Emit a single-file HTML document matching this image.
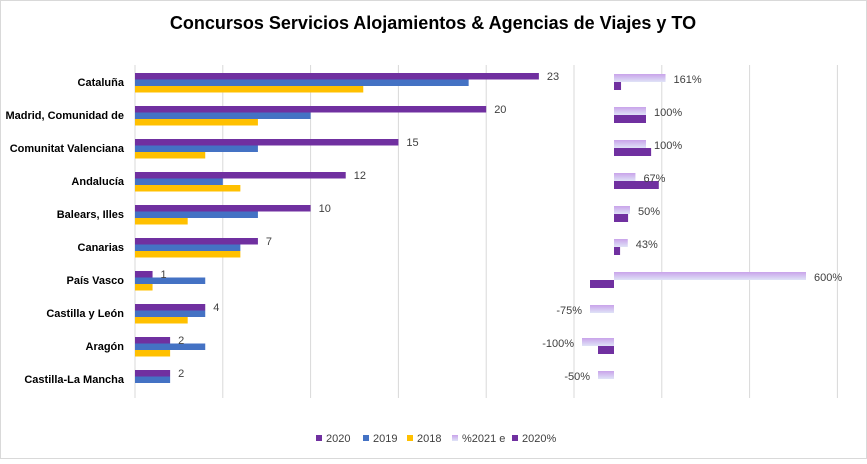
<!DOCTYPE html>
<html><head><meta charset="utf-8">
<style>
body{margin:0;background:#fff;font-family:"Liberation Sans",sans-serif;}
svg text{font-family:"Liberation Sans",sans-serif;}
</style></head>
<body>
<svg id="chart" width="867" height="459" xmlns="http://www.w3.org/2000/svg">
<defs>
<linearGradient id="lg" x1="0" y1="0" x2="0" y2="1">
<stop offset="0" stop-color="#c9a3ea"/><stop offset="1" stop-color="#dfe3f7"/>
</linearGradient>
</defs>
<rect x="0.5" y="0.5" width="866" height="458" fill="#fff" stroke="#d9d9d9"/>
<text x="433" y="29" text-anchor="middle" font-size="18" font-weight="bold" fill="#000">Concursos Servicios Alojamientos &amp; Agencias de Viajes y TO</text>
<g id="grid"></g>
<g id="bars"></g>
<g id="labels"></g>
<g id="legend"></g>
</svg>
<script>
const categories=["Cataluña","Madrid, Comunidad de","Comunitat Valenciana","Andalucía","Balears, Illes","Canarias","País Vasco","Castilla y León","Aragón","Castilla-La Mancha"];
const v2020=[23,20,15,12,10,7,1,4,2,2];
const v2019=[19,10,7,5,7,6,4,4,4,2];
const v2018=[13,7,4,6,3,6,1,3,2,0];
const pct2021e=[161,100,100,67,50,43,600,-75,-100,-50];
const pctLabels=["161%","100%","100%","67%","50%","43%","600%","-75%","-100%","-50%"];
const pct2020=[22,100,116,140,44,19,-75,0,-50,0];
const legendLabels=["2020","2019","2018","%2021 e","2020%"];

const NS="http://www.w3.org/2000/svg";
const x0=135, unit=17.56;
const xL=v=>x0+v*unit;
const z0=614, punit=0.32;
const xR=p=>z0+p*punit;
const rowY=i=>73+i*33;
function mk(tag,attrs,parent){const e=document.createElementNS(NS,tag);for(const k in attrs)e.setAttribute(k,attrs[k]);parent.appendChild(e);return e;}
const grid=document.getElementById('grid'),bars=document.getElementById('bars'),labels=document.getElementById('labels'),legend=document.getElementById('legend');
for(let k=0;k<=8;k++){
  const x=xL(k*5);
  const l=mk('line',{x1:x,x2:x,y1:65,y2:398,stroke:'#d9d9d9','stroke-width':1},grid);
  
  
}
function bar(a,b,y,h,fill,name){
  const r=mk('rect',{x:Math.min(a,b),y:y,width:Math.abs(b-a),height:h,fill:fill},bars);
  
  
}
function txt(x,y,s,anchor,size,weight,name,parent){
  const t=mk('text',{x:x,y:y,'text-anchor':anchor,'font-size':size,'font-weight':weight,fill:weight==='bold'?'#000':'#404040'},parent);
  t.textContent=s;
  
  
}
categories.forEach((c,i)=>{
  const y=rowY(i);
  txt(124,y+13,c,'end',11,'bold','category-label',labels);
  bar(xL(0),xL(v2020[i]),y,6.5,'#7030a0','bar-2020');
  bar(xL(0),xL(v2019[i]),y+6.5,6.5,'#4472c4','bar-2019');
  bar(xL(0),xL(v2018[i]),y+13,6.5,'#ffc000','bar-2018');
  txt(xL(v2020[i])+8,y+7,String(v2020[i]),'start',11,'normal','value-label-2020',labels);
  bar(xR(0),xR(pct2021e[i]),y+1,8,'url(#lg)','bar-pct-2021e');
  bar(xR(0),xR(pct2020[i]),y+9,8,'#7030a0','bar-pct-2020');
  const e=xR(pct2021e[i]);
  if(pct2021e[i]>=0) txt(e+8,y+10,pctLabels[i],'start',11,'normal','pct-label',labels);
  else txt(e-8,y+10,pctLabels[i],'end',11,'normal','pct-label',labels);
});
const lc=['#7030a0','#4472c4','#ffc000','url(#lg)','#7030a0'];
const lx=[316,363,407,452,512];
legendLabels.forEach((s,i)=>{
  const r=mk('rect',{x:lx[i],y:435,width:6,height:6,fill:lc[i]},legend);
  
  
  txt(lx[i]+10,442,s,'start',11,'normal','legend-entry',legend);
});
</script>
</body></html>
